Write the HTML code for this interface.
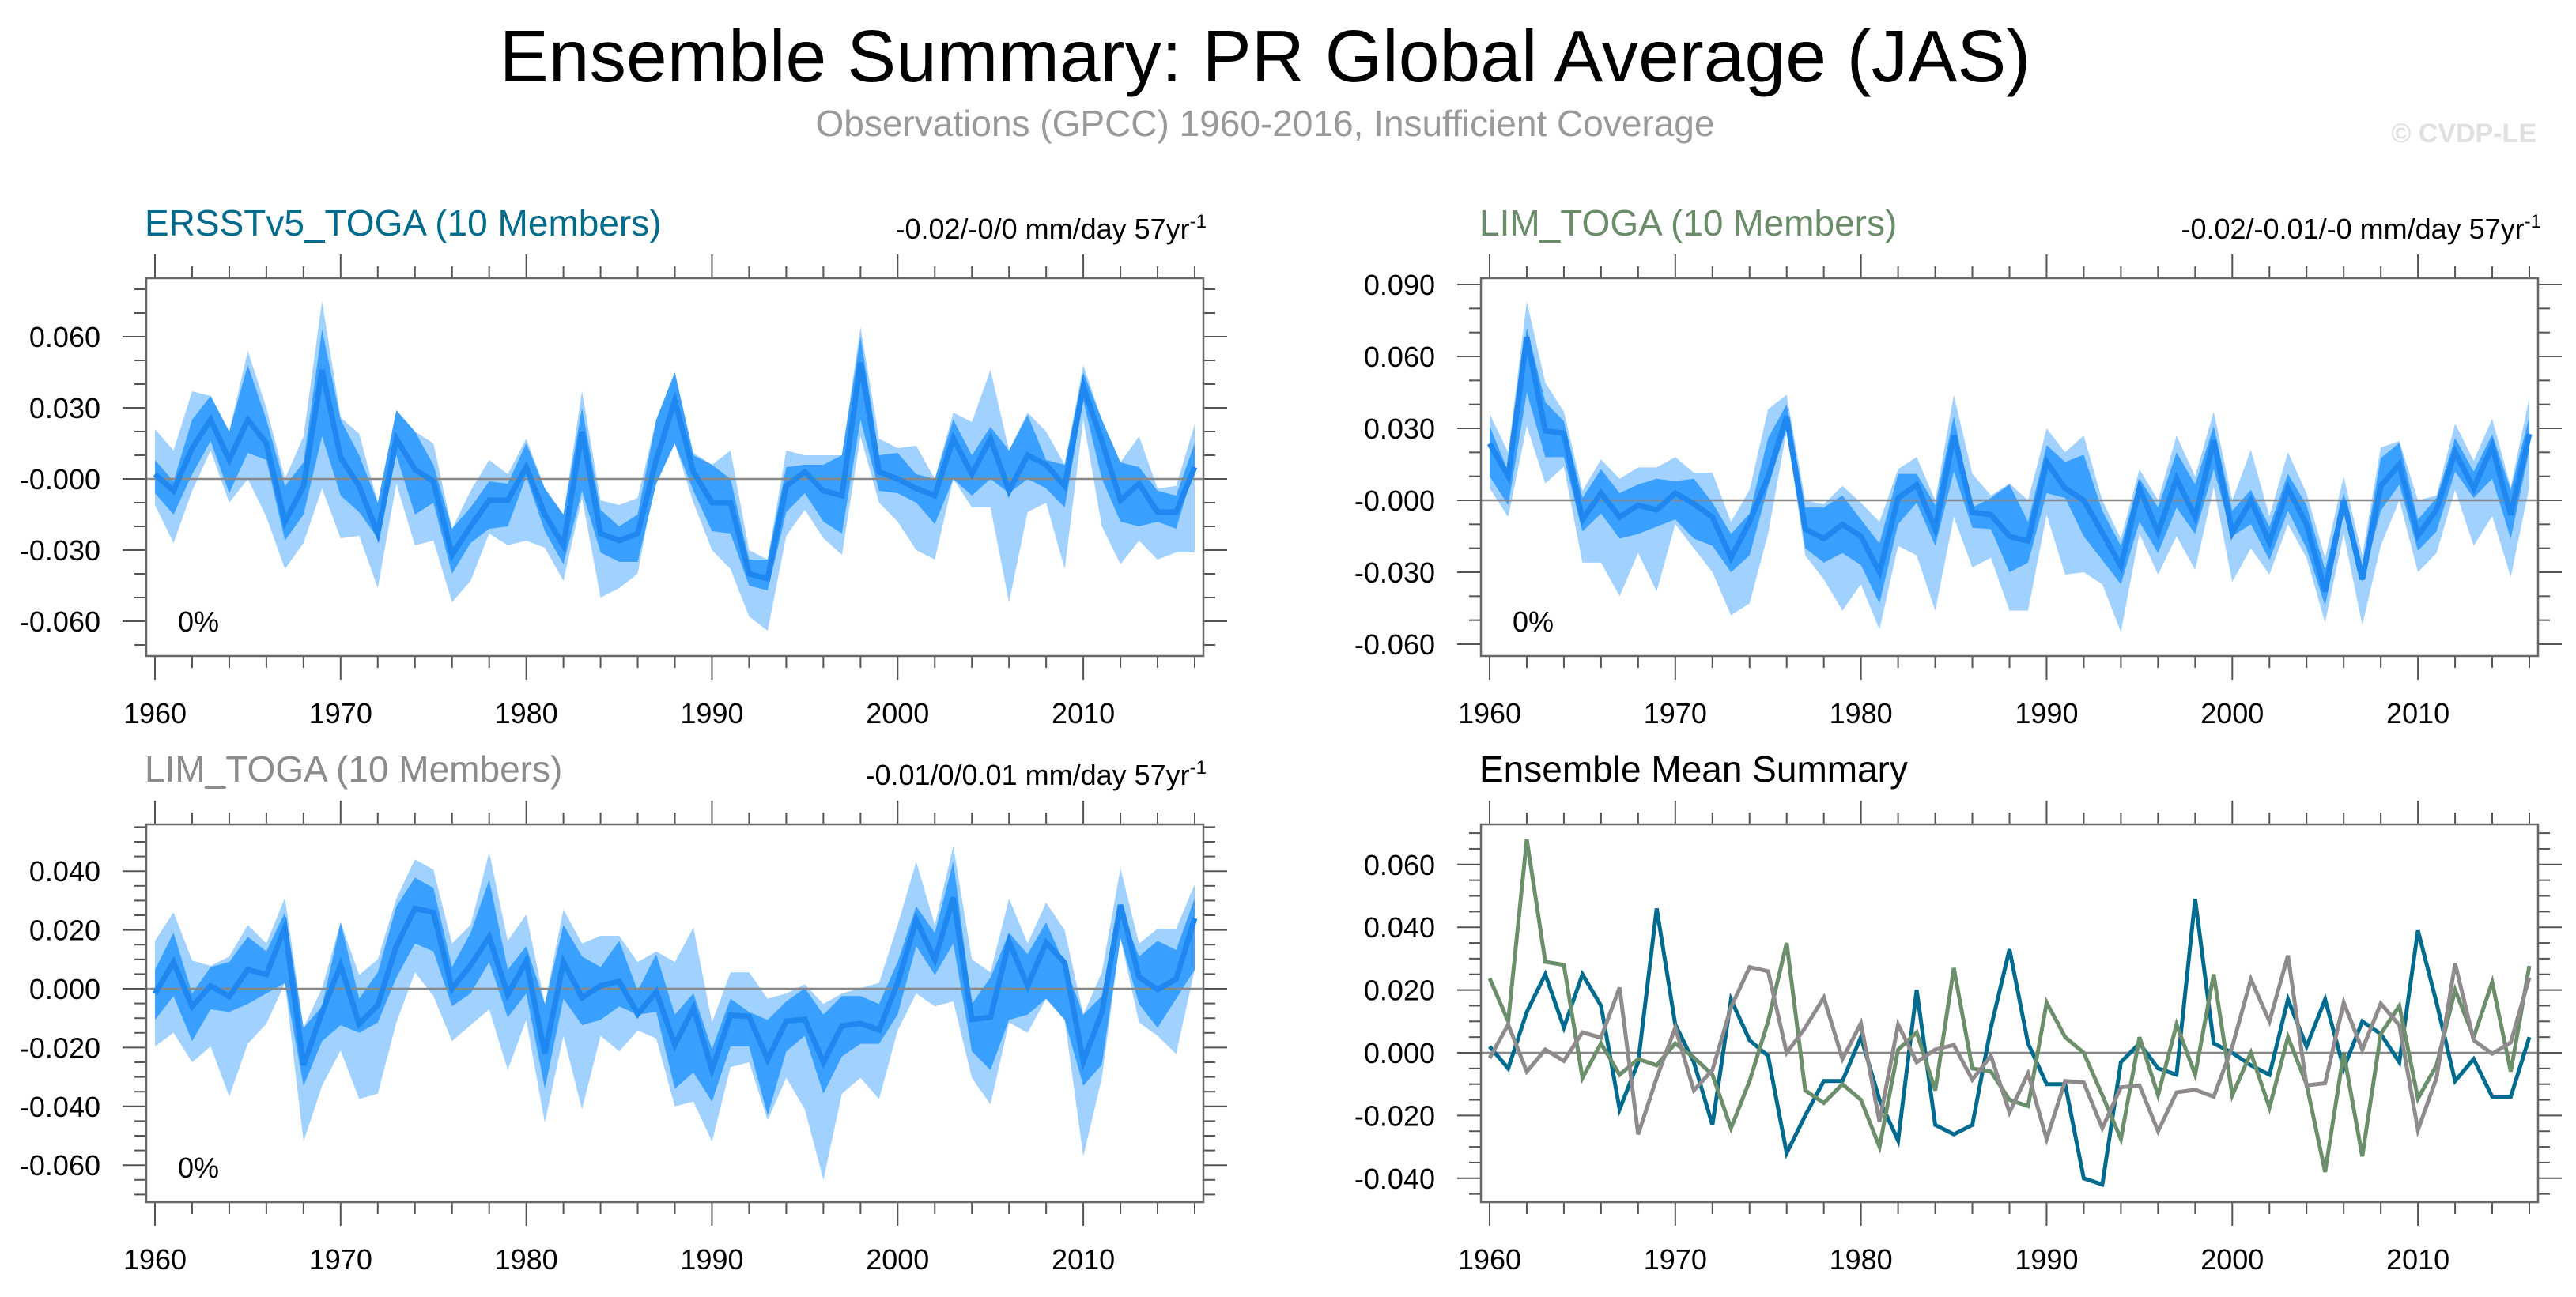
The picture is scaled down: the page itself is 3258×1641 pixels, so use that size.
<!DOCTYPE html>
<html><head><meta charset="utf-8"><style>
html,body{margin:0;padding:0;background:#fff;}
svg{display:block;font-family:"Liberation Sans",sans-serif;}
</style></head><body>
<svg id="chart" width="3258" height="1641" viewBox="0 0 3258 1641" xmlns="http://www.w3.org/2000/svg">
<text x="1600" y="103" font-size="93" text-anchor="middle" fill="#000">Ensemble Summary: PR Global Average (JAS)</text>
<text x="1600" y="172" font-size="46" text-anchor="middle" fill="#999">Observations (GPCC) 1960-2016, Insufficient Coverage</text>
<text x="3208" y="180" font-size="34" font-weight="bold" text-anchor="end" fill="#e0e0e0">© CVDP-LE</text>
</svg>
<script>
const years = []; for (let y = 1960; y <= 2016; y++) years.push(y);
const xTickLabels = ["1960","1970","1980","1990","2000","2010"];

// Panel 1: ERSSTv5_TOGA
const ersstMean = [0.002,-0.005,0.013,0.025,0.008,0.025,0.015,-0.018,-0.003,0.046,0.009,-0.003,-0.023,0.017,0.004,-0.001,-0.032,-0.020,-0.009,-0.009,0.005,-0.015,-0.028,0.020,-0.023,-0.026,-0.023,0.008,0.033,0.003,-0.010,-0.010,-0.040,-0.042,-0.003,0.003,-0.005,-0.007,0.049,0.003,0.000,-0.004,-0.007,0.017,0.002,0.017,-0.005,0.010,0.006,-0.003,0.039,0.016,-0.009,-0.002,-0.014,-0.014,0.005];
const ersstInnerHi = [0.008,-0.001,0.025,0.035,0.020,0.048,0.025,-0.003,0.007,0.063,0.025,0.010,-0.010,0.029,0.020,0.006,-0.021,-0.012,-0.001,-0.002,0.015,-0.004,-0.015,0.030,-0.013,-0.020,-0.015,0.025,0.045,0.010,0.006,0.000,-0.034,-0.034,0.005,0.006,0.006,0.010,0.060,0.010,0.011,0.002,0.000,0.025,0.010,0.022,0.012,0.027,0.008,0.006,0.045,0.025,0.007,0.005,-0.005,-0.007,0.015];
const ersstInnerLo = [-0.006,-0.015,0.002,0.016,-0.006,0.011,0.008,-0.026,-0.015,0.018,-0.007,-0.014,-0.025,0.010,-0.015,-0.010,-0.040,-0.027,-0.021,-0.020,0.001,-0.022,-0.036,-0.005,-0.031,-0.035,-0.035,-0.002,0.015,-0.005,-0.022,-0.023,-0.045,-0.047,-0.014,-0.006,-0.018,-0.023,0.025,-0.005,-0.006,-0.010,-0.019,0.000,-0.007,0.000,-0.006,0.000,-0.004,-0.012,0.033,0.000,-0.018,-0.020,-0.018,-0.021,0.005];
const ersstOuterHi = [0.021,0.012,0.037,0.035,0.020,0.054,0.030,0.000,0.018,0.075,0.026,0.019,-0.010,0.029,0.020,0.015,-0.021,-0.005,0.008,0.002,0.017,-0.004,-0.015,0.037,-0.009,-0.011,-0.008,0.025,0.045,0.011,0.006,0.012,-0.030,-0.034,0.012,0.010,0.010,0.010,0.064,0.017,0.013,0.014,0.000,0.028,0.024,0.046,0.012,0.028,0.020,0.006,0.048,0.025,0.007,0.018,-0.004,-0.003,0.023];
const ersstOuterLo = [-0.011,-0.027,-0.005,0.012,-0.010,0.000,-0.016,-0.038,-0.027,-0.004,-0.025,-0.024,-0.046,-0.002,-0.028,-0.026,-0.052,-0.043,-0.023,-0.028,-0.026,-0.029,-0.043,-0.008,-0.050,-0.046,-0.040,0.002,0.015,-0.010,-0.030,-0.038,-0.058,-0.064,-0.024,-0.013,-0.025,-0.032,0.018,-0.010,-0.018,-0.030,-0.034,0.000,-0.012,-0.012,-0.052,-0.014,-0.010,-0.038,0.025,-0.020,-0.036,-0.026,-0.034,-0.031,-0.031];

// Panel 2: LIM_TOGA (green)
const limMean = [0.0237,0.010,0.068,0.029,0.028,-0.008,0.003,-0.007,-0.002,-0.004,0.003,-0.0015,-0.007,-0.024,-0.009,0.010,0.035,-0.012,-0.016,-0.010,-0.015,-0.030,0.001,0.0065,-0.012,0.027,-0.005,-0.006,-0.015,-0.017,0.016,0.005,0.000,-0.0135,-0.0275,0.005,-0.0135,0.009,-0.007,0.025,-0.0135,0.000,-0.0175,0.005,-0.010,-0.038,0.000,-0.033,0.006,0.015,-0.0146,-0.004,0.020,0.005,0.0225,-0.006,0.0277];
const limInnerHi = [0.031,0.012,0.072,0.041,0.033,0.001,0.013,0.003,0.0066,0.009,0.008,0.009,-0.001,-0.014,-0.0055,0.026,0.040,-0.003,-0.003,0.002,-0.008,-0.018,0.011,0.011,-0.002,0.035,-0.003,0.001,0.0066,-0.009,0.023,0.016,0.019,-0.0044,-0.019,0.009,-0.003,0.020,0.0066,0.031,-0.0044,0.0044,-0.011,0.011,-0.002,-0.029,0.003,-0.027,0.0176,0.024,-0.008,0.001,0.026,0.012,0.0275,0.0044,0.035];
const limInnerLo = [0.010,-0.002,0.045,0.018,0.018,-0.013,-0.0055,-0.016,-0.014,-0.011,-0.008,-0.016,-0.019,-0.030,-0.023,0.0055,0.030,-0.020,-0.026,-0.022,-0.027,-0.043,-0.010,-0.001,-0.019,0.012,-0.0115,-0.012,-0.030,-0.026,0.003,0.001,-0.015,-0.025,-0.035,-0.009,-0.022,-0.003,-0.014,0.013,-0.015,-0.010,-0.025,-0.0044,-0.020,-0.044,-0.0055,-0.034,-0.0044,0.0066,-0.021,-0.013,0.012,0.001,0.009,-0.016,0.021];
const limOuterHi = [0.036,0.020,0.083,0.049,0.037,0.004,0.017,0.009,0.0137,0.0137,0.018,0.0115,0.0115,-0.009,0.0044,0.038,0.044,0.000,-0.0016,0.006,-0.001,-0.009,0.013,0.018,0.000,0.044,0.011,0.002,0.007,0.000,0.030,0.020,0.027,0.000,-0.016,0.013,0.000,0.027,0.010,0.037,0.000,0.021,-0.0066,0.020,0.003,-0.024,0.010,-0.023,0.022,0.0247,0.000,0.002,0.032,0.0165,0.034,0.0055,0.043];
const limOuterLo = [0.005,-0.007,0.031,0.007,0.014,-0.026,-0.026,-0.040,-0.022,-0.038,-0.010,-0.020,-0.030,-0.048,-0.043,-0.014,0.029,-0.023,-0.033,-0.046,-0.035,-0.054,-0.019,-0.023,-0.046,-0.007,-0.028,-0.024,-0.046,-0.046,-0.006,-0.031,-0.030,-0.035,-0.055,-0.014,-0.031,-0.015,-0.029,0.0055,-0.034,-0.020,-0.031,-0.010,-0.024,-0.051,-0.014,-0.052,-0.019,0.000,-0.030,-0.022,0.0044,-0.019,-0.0066,-0.032,0.0055];

// Panel 3: LIM_TOGA (gray)
const lim2Mean = [-0.0017,0.009,-0.006,0.001,-0.0026,0.0065,0.0048,0.0208,-0.026,-0.008,0.008,-0.012,-0.0055,0.0145,0.0273,0.026,0.000,0.008,0.0176,-0.002,0.0094,-0.022,0.009,-0.003,0.001,0.0025,-0.0086,-0.001,-0.019,-0.0066,-0.0275,-0.009,-0.0095,-0.024,-0.011,-0.0104,-0.025,-0.0126,-0.0118,-0.014,0.002,0.0234,0.010,0.031,-0.0104,-0.0097,0.016,0.001,0.0157,0.0088,-0.0246,-0.008,0.0285,0.004,-0.0003,0.0033,0.024];
const lim2InnerHi = [0.0065,0.019,-0.0016,0.0074,0.0091,0.0177,0.0127,0.026,-0.0133,-0.006,0.0226,-0.0034,0.0056,0.028,0.0378,0.0343,0.0074,0.019,0.037,0.0065,0.0145,-0.0052,0.0217,0.011,0.0074,0.0163,-0.0007,0.0118,-0.0088,-0.0016,-0.0205,-0.0034,-0.0079,-0.0106,-0.0043,0.0002,-0.0088,-0.0025,-0.0025,-0.0052,0.0091,0.028,0.019,0.0432,-0.0052,0.0038,0.019,0.0118,0.0226,0.0083,-0.0088,-0.0025,0.027,0.011,0.0163,0.0132,0.0307];
const lim2InnerLo = [-0.0106,-0.0025,-0.0178,-0.007,-0.0079,-0.0052,-0.0016,0.002,-0.033,-0.0178,-0.0124,-0.015,-0.0115,0.0038,0.0154,0.0127,-0.006,-0.0016,0.0091,-0.0097,-0.0016,-0.034,-0.0034,-0.0124,-0.0106,-0.006,-0.0088,-0.0079,-0.034,-0.0285,-0.0384,-0.0196,-0.0196,-0.043,-0.0213,-0.016,-0.0357,-0.023,-0.0187,-0.0187,-0.0088,0.0145,0.0047,0.0154,-0.0213,-0.0276,-0.0106,-0.0088,-0.0034,-0.0106,-0.033,-0.0258,0.0172,-0.0052,-0.0133,-0.0034,0.0065];
const lim2OuterHi = [0.0163,0.026,0.0096,0.0078,0.011,0.0217,0.0154,0.031,-0.0133,0.0002,0.0226,0.0047,0.010,0.0307,0.044,0.0405,0.0154,0.0217,0.0464,0.0163,0.0253,-0.0052,0.027,0.0154,0.018,0.018,0.0091,0.0127,0.0091,0.0208,-0.0115,0.0056,0.0056,-0.0034,-0.0016,0.0015,-0.0052,-0.0016,0.0002,0.002,0.0217,0.0432,0.0217,0.0486,0.010,0.0056,0.0307,0.0154,0.0293,0.0199,-0.0088,0.0056,0.041,0.0154,0.0204,0.0204,0.0356];
const lim2OuterLo = [-0.0196,-0.015,-0.025,-0.0196,-0.0366,-0.0187,-0.0119,0.002,-0.052,-0.033,-0.021,-0.0375,-0.0357,-0.0115,0.0056,-0.0025,-0.0178,-0.0124,-0.007,-0.0276,-0.0106,-0.0456,-0.016,-0.041,-0.016,-0.0213,-0.0142,-0.0169,-0.040,-0.0384,-0.052,-0.0267,-0.025,-0.0447,-0.0303,-0.041,-0.065,-0.0357,-0.0303,-0.0375,-0.0142,-0.0016,-0.006,-0.0043,-0.0303,-0.0393,-0.0115,-0.015,-0.0034,-0.0106,-0.057,-0.0303,0.0172,-0.0115,-0.016,-0.0222,0.0065];

const tlTicks = ["0.060","0.030","-0.000","-0.030","-0.060"];
const trTicks = ["0.090","0.060","0.030","-0.000","-0.030","-0.060"];
const blTicks = ["0.040","0.020","0.000","-0.020","-0.040","-0.060"];
const brTicks = ["0.060","0.040","0.020","0.000","-0.020","-0.040"];

const svg = document.getElementById('chart');
const NS = 'http://www.w3.org/2000/svg';
function mk(tag, attrs, parent) {
  const e = document.createElementNS(NS, tag);
  for (const k in attrs) e.setAttribute(k, attrs[k]);
  (parent || svg).appendChild(e);
  return e;
}

function panel(cfg) {
  const g = mk('g', {});
  
  
  const L = cfg.x0, R = cfg.x0 + 1337, T = cfg.y0, B = cfg.y0 + 478;
  const xs = yr => L + 11 + (yr - 1960) * (1337 - 22) / 56;
  const ys = v => cfg.zeroY - v * cfg.pxPer;
  const tickStroke = '#555';
  for (let yr = 1960; yr <= 2016; yr += 2) {
    const major = (yr % 10 === 0);
    const len = major ? 30 : 15;
    const x = xs(yr);
    const t1 = mk('line', {x1:x, x2:x, y1:T, y2:T-len, stroke:tickStroke, 'stroke-width':2}, g);
    
    
    const t2 = mk('line', {x1:x, x2:x, y1:B, y2:B+len, stroke:tickStroke, 'stroke-width':2}, g);
    
    
  }
  xTickLabels.forEach(lab => {
    const t = mk('text', {x:xs(+lab), y:B+85, 'font-size':36, 'text-anchor':'middle', fill:'#000'}, g);
    
    
    t.textContent = lab;
  });
  const step = cfg.minor;
  const vTop = (cfg.zeroY - T) / cfg.pxPer, vBot = (cfg.zeroY - B) / cfg.pxPer;
  for (let k = Math.ceil(vBot / step - 1e-6); k * step <= vTop + 1e-9; k++) {
    const v = k * step, y = ys(v);
    if (y < T + 1 || y > B - 1) continue;
    const major = Math.abs(Math.round(v / cfg.major) * cfg.major - v) < 1e-9;
    const len = major ? 30 : 15;
    const a = mk('line', {x1:L, x2:L-len, y1:y, y2:y, stroke:tickStroke, 'stroke-width':2}, g);
    
    
    const b = mk('line', {x1:R, x2:R+len, y1:y, y2:y, stroke:tickStroke, 'stroke-width':2}, g);
    
    
  }
  cfg.ticks.forEach(lab => {
    const t = mk('text', {x:L-58, y:ys(parseFloat(lab))+13, 'font-size':36, 'text-anchor':'end', fill:'#000'}, g);
    
    
    t.textContent = lab;
  });
  const poly = (hi, lo) => {
    let p = years.map((yr, i) => xs(yr).toFixed(1) + ',' + ys(hi[i]).toFixed(1));
    for (let i = years.length - 1; i >= 0; i--) p.push(xs(years[i]).toFixed(1) + ',' + ys(lo[i]).toFixed(1));
    return p.join(' ');
  };
  const line = arr => years.map((yr, i) => xs(yr).toFixed(1) + ',' + ys(arr[i]).toFixed(1)).join(' ');
  if (cfg.bands) {
    const o = mk('polygon', {points:poly(cfg.bands.oh, cfg.bands.ol), fill:'#a0d1ff'}, g);
    
    
    const n = mk('polygon', {points:poly(cfg.bands.ih, cfg.bands.il), fill:'#3aa0ff'}, g);
    
    
  }
  const z = mk('line', {x1:L, x2:R, y1:ys(0), y2:ys(0), stroke:'#888', 'stroke-width':2.5}, g);
  
  
  cfg.lines.forEach(ln => {
    const pl = mk('polyline', {points:line(ln.data), fill:'none', stroke:ln.color, 'stroke-width':ln.w, 'stroke-linejoin':'miter'}, g);
    
    
  });
  const box = mk('rect', {x:L, y:T, width:1337, height:478, fill:'none', stroke:'#666', 'stroke-width':2.5}, g);
  
  
  const tt = mk('text', {x:L-2, y:T-54, 'font-size':46, fill:cfg.titleColor}, g);
  
  
  tt.textContent = cfg.title;
  if (cfg.trend) {
    const tr = mk('text', {x:R+4, y:T-50, 'font-size':36, 'text-anchor':'end', fill:'#000'}, g);
    
    
    tr.innerHTML = cfg.trend + '<tspan dy="-14" font-size="24">-1</tspan>';
    const pc = mk('text', {x:L+40, y:B-31, 'font-size':36, fill:'#000'}, g);
    
    
    pc.textContent = '0%';
  }
}

panel({name:'panel-ersstv5-toga', x0:185, y0:352, zeroY:606, pxPer:3000, major:0.03, minor:0.01, ticks:tlTicks,
  title:'ERSSTv5_TOGA (10 Members)', titleColor:'#006b8c', trend:'-0.02/-0/0 mm/day 57yr',
  bands:{oh:ersstOuterHi, ol:ersstOuterLo, ih:ersstInnerHi, il:ersstInnerLo},
  lines:[{data:ersstMean, color:'#1e88f0', w:7, name:'ensemble-mean-line'}]});
panel({name:'panel-lim-toga-green', x0:1873, y0:352, zeroY:633, pxPer:3033, major:0.03, minor:0.01, ticks:trTicks,
  title:'LIM_TOGA (10 Members)', titleColor:'#6a8c69', trend:'-0.02/-0.01/-0 mm/day 57yr',
  bands:{oh:limOuterHi, ol:limOuterLo, ih:limInnerHi, il:limInnerLo},
  lines:[{data:limMean, color:'#1e88f0', w:7, name:'ensemble-mean-line'}]});
panel({name:'panel-lim-toga-gray', x0:185, y0:1043, zeroY:1251, pxPer:3720, major:0.02, minor:0.005, ticks:blTicks,
  title:'LIM_TOGA (10 Members)', titleColor:'#8c8c8c', trend:'-0.01/0/0.01 mm/day 57yr',
  bands:{oh:lim2OuterHi, ol:lim2OuterLo, ih:lim2InnerHi, il:lim2InnerLo},
  lines:[{data:lim2Mean, color:'#1e88f0', w:7, name:'ensemble-mean-line'}]});
panel({name:'panel-ensemble-mean-summary', x0:1873, y0:1043, zeroY:1332, pxPer:3970, major:0.02, minor:0.005, ticks:brTicks,
  title:'Ensemble Mean Summary', titleColor:'#000', trend:null, bands:null,
  lines:[{data:ersstMean, color:'#006b8e', w:5, name:'ersst-mean-line'},
         {data:limMean, color:'#6b8e6b', w:5, name:'lim-green-mean-line'},
         {data:lim2Mean, color:'#8f8a8c', w:5, name:'lim-gray-mean-line'}]});
</script>
</body></html>
